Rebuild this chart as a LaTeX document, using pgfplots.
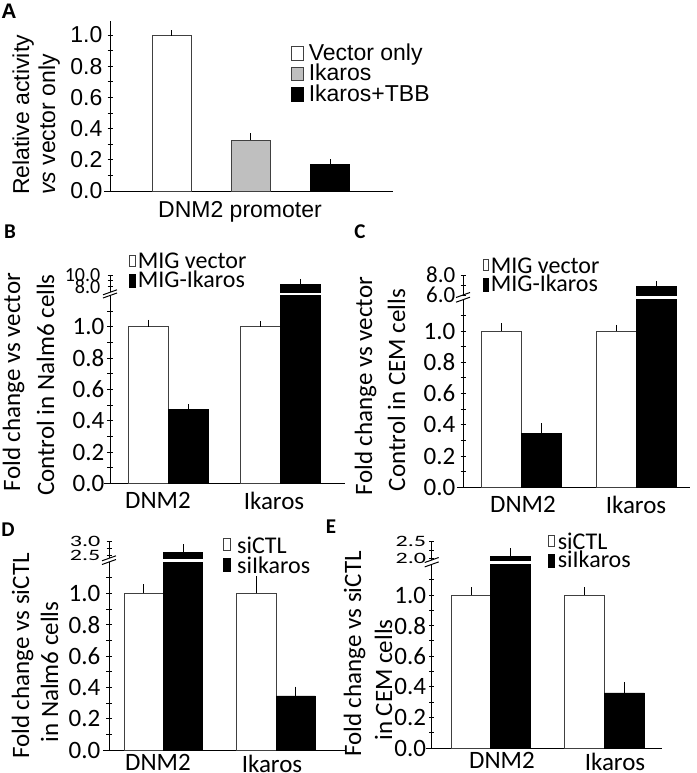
\documentclass[border=0pt]{standalone}
\usepackage{fontspec}
\setmainfont{Carlito}
\newfontfamily\arial{Liberation Sans}
\usepackage{graphicx}
\usepackage{pgfplots}
\pgfplotsset{compat=1.18}
\newcommand{\fs}[1]{\fontsize{#1bp}{#1bp}\selectfont}
\newcommand{\sqnum}[1]{\scalebox{1}[#1]{\pgfmathprintnumber[fixed, fixed zerofill, precision=1, assume math mode=true]{\tick}}}
\pgfplotsset{
  base/.style={scale only axis, anchor=south west, clip=true,
    tick align=outside, major tick length=5bp, minor tick length=5bp,
    tick style={black, line width=1bp},
    xtick style={draw=none},
    yticklabel style={inner sep=0pt,
      /pgf/number format/fixed, /pgf/number format/fixed zerofill,
      /pgf/number format/precision=1, /pgf/number format/assume math mode=true}},
  lower/.style={base, axis lines=left, axis line style={-, line width=1bp, black},
    x axis line style={shorten <=-6bp},
    ymin=0, ymax=1.2,
    ytick={0,0.2,0.4,0.6,0.8,1.0}, minor ytick={0.1,0.3,0.5,0.7,0.9,1.1},
    yticklabel style={font=\fs{25}},
    xticklabel style={font=\fs{25}, anchor=north, inner sep=0pt, yshift=-6bp},
    legend cell align=left},
  upper/.style={base, axis x line=none, axis y line=left, axis line style={-, line width=1bp, black}, xtick=\empty},
  eb/.style={error bars/y dir=plus, error bars/y explicit,
    error bars/error bar style={line width=0.8bp, black},
    error bars/error mark options={line width=0.8bp, black, mark size=3bp}},
  wbar/.style={ybar, fill=white, draw=black!75, line width=0.8bp, bar shift=0pt, eb},
  gbar/.style={ybar, fill=black!25, draw=black!75, line width=0.8bp, bar shift=0pt, eb},
  kbar/.style={ybar, fill=black, draw=black, line width=0.8bp, bar shift=0pt, eb},
}
\begin{document}
\begin{tikzpicture}
\path[use as bounding box] (0bp,0bp) rectangle (697bp,-773bp);
% panel letters
\node[font=\arial\bfseries\fs{21}, inner sep=0pt] at (9bp,-11bp) {A};
\node[font=\bfseries\fs{21}, inner sep=0pt] at (10bp,-232bp) {B};
\node[font=\bfseries\fs{21}, inner sep=0pt] at (360bp,-232bp) {C};
\node[font=\bfseries\fs{21}, inner sep=0pt] at (8bp,-530bp) {D};
\node[font=\bfseries\fs{21}, inner sep=0pt] at (331bp,-527bp) {E};

% ---------------- Panel A ----------------
\node[rotate=90, anchor=base west, inner sep=0pt, font=\arial\fs{23}] at (29bp,-195bp) {Relative activity};
\node[rotate=90, anchor=base west, inner sep=0pt, font=\arial\fs{23}] at (55bp,-195bp) {\textit{vs} vector only};
\begin{axis}[base, axis lines=left, axis line style={-, line width=1bp, black},
  x axis line style={shorten <=-6bp},
  at={(110bp,-191bp)}, width=283bp, height=170bp,
  xmin=0, xmax=283, ymin=0, ymax=1.09,
  ytick={0,0.2,0.4,0.6,0.8,1.0}, minor ytick={0.1,0.3,0.5,0.7,0.9},
  yticklabel style={font=\arial\fs{23}, xshift=-5bp},
  xtick={130}, xticklabels={DNM2 promoter},
  xticklabel style={font=\arial\fs{23}, anchor=north, inner sep=0pt, yshift=-8bp},
  legend cell align=left,
  legend style={at={(axis description cs:0.6385,0.8588)}, anchor=north west, draw=none, fill=none,
    inner sep=0pt, outer sep=0pt, row sep=0pt, column sep=4.7bp, font=\arial\fs{23},
    nodes={inner sep=0pt, text height=15bp, text depth=5.5bp}}]
\addplot[wbar, bar width=39, legend image code/.code={\draw[fill=white, draw=black!75, line width=0.8bp] (0bp,-4.75bp) rectangle (12.6bp,8.55bp);}]
  coordinates {(61.5,1.00) +- (0,0.012)};
\addlegendentry{Vector only}
\addplot[gbar, bar width=39, legend image code/.code={\draw[fill=black!25, draw=black!75, line width=0.8bp] (0bp,-4.75bp) rectangle (12.6bp,8.55bp);}]
  coordinates {(140.5,0.327) +- (0,0.025)};
\addlegendentry{Ikaros}
\addplot[kbar, bar width=39, legend image code/.code={\draw[fill=black, draw=black, line width=0.8bp] (0bp,-4.75bp) rectangle (12.6bp,8.55bp);}]
  coordinates {(220,0.171) +- (0,0.013)};
\addlegendentry{Ikaros+TBB}
\end{axis}

% ---------------- Panel B ----------------
\node[rotate=90, anchor=base, inner sep=0pt, font=\fs{25}] at (20bp,-382bp) {Fold change vs vector};
\node[rotate=90, anchor=base, inner sep=0pt, font=\fs{25}] at (54bp,-385bp) {Control in Nalm6 cells};
\begin{axis}[lower, at={(110bp,-483.3bp)}, width=235bp, height=187.8bp, xmin=0, xmax=235,
  yticklabel style={xshift=-3bp},
  xtick={48,164}, xticklabels={DNM2,Ikaros},
  legend style={at={(axis description cs:0.0809,1.221)}, anchor=north west, draw=none, fill=none,
    inner sep=0pt, outer sep=0pt, row sep=0pt, column sep=2bp, font=\fs{24},
    nodes={inner sep=0pt, text height=14bp, text depth=5bp}}]
\addplot[wbar, bar width=40, legend image code/.code={\draw[fill=white, draw=black!75, line width=0.8bp] (0bp,-2.5bp) rectangle (6bp,8.5bp);}]
  coordinates {(38,1.00) +- (0,0.025) (150.5,1.00) +- (0,0.015)};
\addlegendentry{MIG vector}
\addplot[kbar, bar width=40, legend image code/.code={\draw[fill=black, draw=black, line width=0.8bp] (0bp,-4.5bp) rectangle (6bp,8.5bp);}]
  coordinates {(78,0.473) +- (0,0.013) (190.5,8.39) +- (0,0.4)};
\addlegendentry{MIG-Ikaros}
\end{axis}
\begin{axis}[upper, at={(110bp,-292.3bp)}, width=235bp, height=17.3bp, xmin=0, xmax=235,
  ymin=7, ymax=10, ytick={8,10}, minor ytick={9},
  yticklabel style={font=\fs{20}, xshift=-7bp}]
\addplot[kbar, bar width=40] coordinates {(190.5,8.39) +- (0,0.4)};
\end{axis}
\draw[line width=1bp] (103bp,-298bp) -- (117bp,-293bp);
\draw[line width=1bp] (103bp,-294.8bp) -- (117bp,-289.8bp);

% ---------------- Panel C ----------------
\node[rotate=90, anchor=base, inner sep=0pt, font=\fs{25}] at (372bp,-386bp) {Fold change vs vector};
\node[rotate=90, anchor=base, inner sep=0pt, font=\fs{25}] at (405bp,-390bp) {Control in CEM cells};
\begin{axis}[lower, at={(463bp,-487.5bp)}, width=227bp, height=187.8bp, xmin=0, xmax=227,
  yticklabel style={xshift=-5bp},
  xtick={60,173}, xticklabels={DNM2,Ikaros},
  legend style={at={(axis description cs:0.0881,1.2167)}, anchor=north west, draw=none, fill=none,
    inner sep=0pt, outer sep=0pt, row sep=0pt, column sep=2bp, font=\fs{24},
    nodes={inner sep=0pt, text height=14bp, text depth=4.7bp}}]
\addplot[wbar, bar width=40, legend image code/.code={\draw[fill=white, draw=black!75, line width=0.8bp] (0bp,-2.5bp) rectangle (5bp,8.5bp);}]
  coordinates {(38,1.00) +- (0,0.03) (153.5,1.00) +- (0,0.02)};
\addlegendentry{MIG vector}
\addplot[kbar, bar width=40, legend image code/.code={\draw[fill=black, draw=black, line width=0.8bp] (0bp,-4.5bp) rectangle (5bp,8.5bp);}]
  coordinates {(78.5,0.346) +- (0,0.045) (193.5,6.83) +- (0,0.27)};
\addlegendentry{MIG-Ikaros}
\end{axis}
\begin{axis}[upper, at={(463bp,-295bp)}, width=227bp, height=20bp, xmin=0, xmax=227,
  ymin=6, ymax=8, ytick={6,8}, minor ytick={7},
  yticklabel style={font=\fs{23}, xshift=-5bp}]
\addplot[kbar, bar width=40] coordinates {(193.5,6.83) +- (0,0.27)};
\end{axis}
\draw[line width=1bp] (456bp,-302.2bp) -- (470bp,-297.2bp);
\draw[line width=1bp] (456bp,-297.5bp) -- (470bp,-292.5bp);

% ---------------- Panel D ----------------
\node[rotate=90, anchor=base, inner sep=0pt, font=\fs{25}] at (29bp,-656bp) {Fold change vs siCTL};
\node[rotate=90, anchor=base, inner sep=0pt, font=\fs{25}] at (58bp,-672bp) {in Nalm6 cells};
\begin{axis}[lower, at={(109bp,-750bp)}, width=236bp, height=188bp, xmin=0, xmax=236,
  yticklabel style={xshift=-6bp},
  xtick={49,163}, xticklabels={DNM2,Ikaros},
  xticklabel style={yshift=4bp},
  legend style={at={(axis description cs:0.4818,1.1266)}, anchor=north west, draw=none, fill=none,
    inner sep=0pt, outer sep=0pt, row sep=0pt, column sep=6.7bp, font=\fs{24},
    nodes={inner sep=0pt, text height=13.5bp, text depth=4.8bp}}]
\addplot[wbar, bar width=39.3, legend image code/.code={\draw[fill=white, draw=black!75, line width=0.8bp] (0bp,-1.5bp) rectangle (7bp,10.5bp);}]
  coordinates {(34.7,1.00) +- (0,0.04) (147.3,1.00) +- (0,0.09)};
\addlegendentry{siCTL}
\addplot[kbar, bar width=39.3, legend image code/.code={\draw[fill=black, draw=black, line width=0.8bp] (0bp,-3bp) rectangle (7bp,10bp);}]
  coordinates {(74,2.59) +- (0,0.2) (186.8,0.345) +- (0,0.04)};
\addlegendentry{siIkaros}
\end{axis}
\begin{axis}[upper, at={(109bp,-558.3bp)}, width=236bp, height=16.6bp, xmin=0, xmax=236,
  ymin=2.38, ymax=3.0, ytick={2.5,3.0}, minor ytick={2.75},
  yticklabel={\sqnum{0.66}}, yticklabel style={font=\fs{24}, xshift=-6bp}]
\addplot[kbar, bar width=39.3] coordinates {(74,2.59) +- (0,0.2)};
\end{axis}
\draw[line width=1bp] (102bp,-564.5bp) -- (116bp,-559.5bp);
\draw[line width=1bp] (102bp,-560.8bp) -- (116bp,-555.8bp);

% ---------------- Panel E ----------------
\node[rotate=90, anchor=base, inner sep=0pt, font=\fs{25}] at (361bp,-654bp) {Fold change vs siCTL};
\node[rotate=90, anchor=base, inner sep=0pt, font=\fs{25}] at (392bp,-680bp) {in CEM cells};
\begin{axis}[lower, at={(431.7bp,-748bp)}, width=230bp, height=183.6bp, xmin=0, xmax=230,
  yticklabel style={xshift=-3bp},
  xtick={70.3,183.3}, xticklabels={DNM2,Ikaros},
  xticklabel style={yshift=4bp},
  legend style={at={(axis description cs:0.5057,1.1612)}, anchor=north west, draw=none, fill=none,
    inner sep=0pt, outer sep=0pt, row sep=0pt, column sep=3bp, font=\fs{24},
    nodes={inner sep=0pt, text height=13.5bp, text depth=4.8bp}}]
\addplot[wbar, bar width=40, legend image code/.code={\draw[fill=white, draw=black!75, line width=0.8bp] (0bp,-1.5bp) rectangle (6bp,9.5bp);}]
  coordinates {(39.5,1.00) +- (0,0.03) (152.6,1.00) +- (0,0.03)};
\addlegendentry{siCTL}
\addplot[kbar, bar width=40, legend image code/.code={\draw[fill=black, draw=black, line width=0.8bp] (0bp,-4bp) rectangle (6bp,8.5bp);}]
  coordinates {(79,2.07) +- (0,0.15) (192.6,0.36) +- (0,0.05)};
\addlegendentry{siIkaros}
\end{axis}
\begin{axis}[upper, at={(431.7bp,-560bp)}, width=230bp, height=18.3bp, xmin=0, xmax=230,
  ymin=1.95, ymax=2.5, ytick={2.0,2.5}, minor ytick={2.25},
  yticklabel={\sqnum{0.66}}, yticklabel style={font=\fs{24}, xshift=-3bp}]
\addplot[kbar, bar width=40] coordinates {(79,2.07) +- (0,0.15)};
\end{axis}
\draw[line width=1bp] (424.7bp,-566.9bp) -- (438.7bp,-561.9bp);
\draw[line width=1bp] (424.7bp,-562.5bp) -- (438.7bp,-557.5bp);
\end{tikzpicture}
\end{document}
